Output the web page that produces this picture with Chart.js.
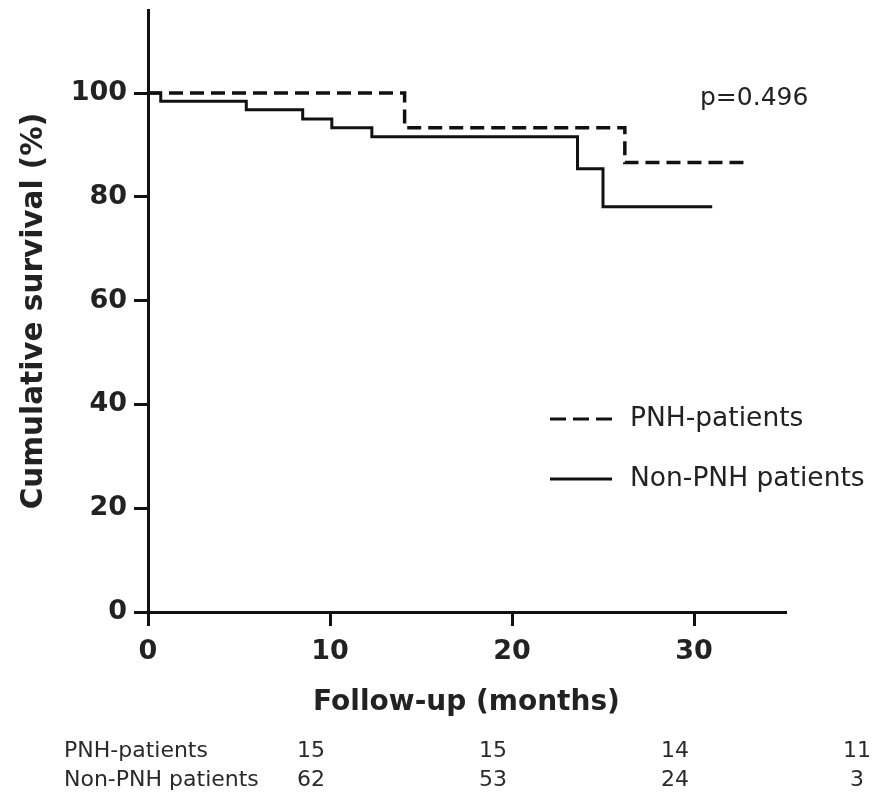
<!DOCTYPE html>
<html>
<head>
<meta charset="utf-8">
<script src="https://cdn.jsdelivr.net/npm/chart.js@4.4.1/dist/chart.umd.min.js"></script>
<style>
  html, body { margin: 0; padding: 0; background: #fff; }
  #wrap { width: 875px; height: 796px; }
</style>
</head>
<body>
<div id="wrap"><canvas id="km" width="875" height="796"></canvas></div>
<script>
// Kaplan-Meier steps (months, %)
const pnhTime = [0, 14.1, 26.2, 33.0];
const pnhSurv = [100, 93.3, 86.6, 86.6];
const nonTime = [0, 0.7, 5.4, 8.5, 10.1, 12.3, 23.6, 25.0, 31.0];
const nonSurv = [100, 98.4, 96.8, 95.0, 93.3, 91.6, 85.4, 78.1, 78.1];

const xTicks = [0, 10, 20, 30];
const yTicks = [0, 20, 40, 60, 80, 100];

// numbers at risk
const riskTimes = [0, 10, 20, 30];
const riskLabels = ['PNH-patients', 'Non-PNH patients'];
const pnhAtRisk = [15, 15, 14, 11];
const nonAtRisk = [62, 53, 24, 3];

const pValue = 'p=0.496';

const toPoints = (t, s) => t.map((v, i) => ({ x: v, y: s[i] }));

// legend, p-value and at-risk table
const extras = {
  id: 'extras',
  afterDraw(chart) {
    const ctx = chart.ctx;
    const xs = chart.scales.x;
    ctx.save();
    ctx.fillStyle = '#222';
    ctx.textBaseline = 'middle';
    ctx.textAlign = 'left';

    // p value
    ctx.font = '25px "DejaVu Sans"';
    ctx.fillText(pValue, 700, 98);

    // legend
    ctx.strokeStyle = '#111';
    ctx.lineWidth = 3;
    ctx.setLineDash([16, 7]);
    ctx.beginPath(); ctx.moveTo(550, 419); ctx.lineTo(612, 419); ctx.stroke();
    ctx.setLineDash([]);
    ctx.beginPath(); ctx.moveTo(550, 479); ctx.lineTo(612, 479); ctx.stroke();
    ctx.font = '26.5px "DejaVu Sans"';
    ctx.fillText(chart.data.datasets[0].label, 630, 419);
    ctx.fillText(chart.data.datasets[1].label, 630, 479);

    // at-risk table
    ctx.fillStyle = '#2a2a2a';
    ctx.font = '22px "DejaVu Sans"';
    ctx.fillText(riskLabels[0], 64, 751);
    ctx.fillText(riskLabels[1], 64, 780);
    ctx.textAlign = 'center';
    riskTimes.forEach((t, i) => {
      const cx = xs.getPixelForValue(t) + 163;
      ctx.fillText(String(pnhAtRisk[i]), cx, 751);
      ctx.fillText(String(nonAtRisk[i]), cx, 780);
    });
    ctx.restore();
  }
};

new Chart(document.getElementById('km'), {
  type: 'line',
  data: {
    datasets: [
      {
        label: 'PNH-patients',
        data: toPoints(pnhTime, pnhSurv),
        stepped: true,
        borderColor: '#111',
        borderWidth: 3.5,
        borderDash: [14, 7],
        pointRadius: 0,
        fill: false
      },
      {
        label: 'Non-PNH patients',
        data: toPoints(nonTime, nonSurv),
        stepped: true,
        borderColor: '#111',
        borderWidth: 3,
        pointRadius: 0,
        fill: false
      }
    ]
  },
  options: {
    responsive: false,
    devicePixelRatio: 1,
    animation: false,
    layout: { padding: { top: 10, right: 90, bottom: 0, left: 0 } },
    plugins: {
      legend: { display: false },
      tooltip: { enabled: false }
    },
    scales: {
      x: {
        type: 'linear',
        min: 0,
        max: 35,
        afterFit: s => { s.height = 184; },
        afterBuildTicks: s => { s.ticks = xTicks.map(v => ({ value: v })); },
        border: { display: true, color: '#111', width: 3 },
        grid: { display: true, drawOnChartArea: false, color: '#111', lineWidth: 3, tickLength: 14 },
        ticks: {
          color: '#222',
          padding: 10,
          maxRotation: 0,
          font: { family: 'DejaVu Sans', weight: 'bold', size: 27 }
        },
        title: {
          display: true,
          text: 'Follow-up (months)',
          color: '#222',
          font: { family: 'DejaVu Sans', weight: 'bold', size: 28 },
          padding: { bottom: 76 }
        }
      },
      y: {
        type: 'linear',
        min: 0,
        max: 116,
        afterFit: s => { s.width = 148; s.paddingTop = 0; s.paddingBottom = 0; },
        afterBuildTicks: s => { s.ticks = yTicks.map(v => ({ value: v })); },
        border: { display: true, color: '#111', width: 3 },
        grid: { display: true, drawOnChartArea: false, color: '#111', lineWidth: 3, tickLength: 14 },
        ticks: {
          color: '#222',
          padding: 7,
          font: { family: 'DejaVu Sans', weight: 'bold', size: 27 }
        },
        title: {
          display: true,
          text: 'Cumulative survival (%)',
          color: '#222',
          font: { family: 'DejaVu Sans', weight: 'bold', size: 29.5 },
          padding: { top: 17 }
        }
      }
    }
  },
  plugins: [extras]
});
</script>
</body>
</html>
